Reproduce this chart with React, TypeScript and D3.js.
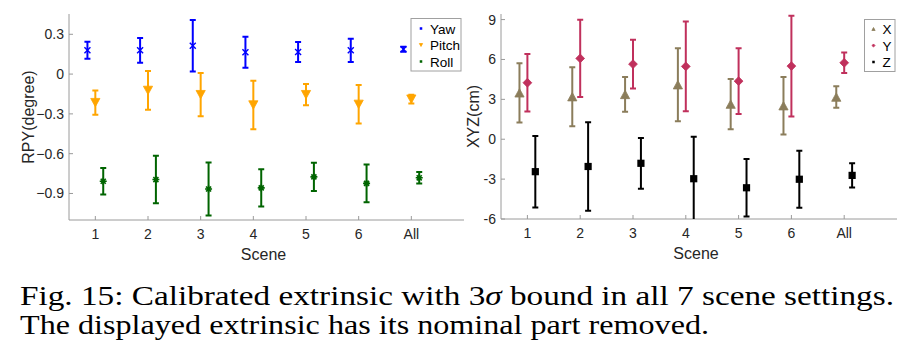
import React from "react";
import * as d3 from "d3";

// ---------- data ----------
const scenes = ["1", "2", "3", "4", "5", "6", "All"];

// RPY (degree): mean and 3-sigma half width
const yawMean = [0.18, 0.179, 0.214, 0.165, 0.166, 0.179, 0.187];
const yawBound = [0.064, 0.093, 0.194, 0.117, 0.075, 0.088, 0.019];
const pitchMean = [-0.215, -0.123, -0.155, -0.233, -0.155, -0.228, -0.189];
const pitchBound = [0.092, 0.146, 0.163, 0.183, 0.08, 0.145, 0.033];
const rollMean = [-0.808, -0.795, -0.866, -0.858, -0.775, -0.824, -0.782];
const rollBound = [0.1, 0.179, 0.2, 0.141, 0.106, 0.142, 0.043];

// XYZ (cm)
const xMean = [3.49, 3.2, 3.37, 4.1, 2.64, 2.52, 3.17];
const xBound = [2.23, 2.22, 1.31, 2.74, 1.89, 2.17, 0.81];
const yMean = [4.25, 6.08, 5.65, 5.48, 4.37, 5.5, 5.75];
const yBound = [2.16, 2.9, 1.83, 3.37, 2.48, 3.79, 0.77];
const zMean = [-2.44, -2.05, -1.81, -2.97, -3.65, -3.01, -2.72];
const zBound = [2.69, 3.33, 1.91, 3.15, 2.17, 2.15, 0.91];

const rpyTicks = [0.3, 0, -0.3, -0.6, -0.9];
const xyzTicks = [9, 6, 3, 0, -3, -6];

const rpyLabels = ["Yaw", "Pitch", "Roll"];
const xyzLabels = ["X", "Y", "Z"];

const C_YAW = "#0000FF";
const C_PITCH = "#FFA500";
const C_ROLL = "#006400";
const C_X = "#8B7D5B";
const C_Y = "#C0305C";
const C_Z = "#000000";

const AXIS = "#9a9a9a";
const TXT = "#262626";

type Series = { mean: number[]; bound: number[]; color: string; marker: string; offset: number };

function Marker({ type, x, y, color, small }: { type: string; x: number; y: number; color: string; small?: boolean }) {
  const k = small ? 0.35 : 1;
  if (type === "x") {
    const r = 3 * k;
    return (
      <path d={`M${x - r},${y - r}L${x + r},${y + r}M${x - r},${y + r}L${x + r},${y - r}`} stroke={color} strokeWidth={1.4} fill="none" />
    );
  }
  if (type === "star") {
    const r = 3.5 * k;
    const a = r * 0.72;
    return (
      <path
        d={`M${x - r},${y}L${x + r},${y}M${x},${y - r}L${x},${y + r}M${x - a},${y - a}L${x + a},${y + a}M${x - a},${y + a}L${x + a},${y - a}`}
        stroke={color}
        strokeWidth={1.6}
        fill="none"
      />
    );
  }
  if (type === "tdown") {
    const w = 4.6 * k, h = 4.2 * k;
    return <path d={`M${x - w},${y - h}L${x + w},${y - h}L${x},${y + h}Z`} fill={color} stroke={color} strokeWidth={0.8} />;
  }
  if (type === "tup") {
    const w = 4.6 * k, h = 4.2 * k;
    return <path d={`M${x - w},${y + h}L${x + w},${y + h}L${x},${y - h}Z`} fill={color} stroke={color} strokeWidth={0.8} />;
  }
  if (type === "diamond") {
    const r = 4.4 * k;
    return <path d={`M${x},${y - r}L${x + r},${y}L${x},${y + r}L${x - r},${y}Z`} fill={color} stroke={color} strokeWidth={0.8} />;
  }
  if (type === "square") {
    const r = 3.6 * k;
    return <rect x={x - r} y={y - r} width={2 * r} height={2 * r} fill={color} />;
  }
  return null;
}

function Panel({
  id, left, right, top, bottom, yDomain, ticks, tickFmt, series, ylabel, ylabelX, legend, legendLabels,
}: {
  id: string; left: number; right: number; top: number; bottom: number; yDomain: [number, number];
  ticks: number[]; tickFmt: (v: number) => string; series: Series[]; ylabel: string; ylabelX: number;
  legend: { x0: number; x1: number; y0: number; y1: number; mx: number; tx: number; ys: number[] };
  legendLabels: string[];
}) {
  const x = d3.scaleLinear().domain([0.5, 8]).range([left, right]);
  const y = d3.scaleLinear().domain(yDomain).range([bottom, top]);
  const cap = 3;
  return (
    <g>
      <defs>
        <clipPath id={id}>
          <rect x={left} y={top} width={right - left} height={bottom - top} />
        </clipPath>
      </defs>
      <line x1={left} x2={left} y1={top} y2={bottom} stroke={AXIS} strokeWidth={1} />
      <line x1={left} x2={right} y1={bottom} y2={bottom} stroke={AXIS} strokeWidth={1} />
      {ticks.map((t) => (
        <g key={"yt" + t}>
          <line x1={left} x2={left + 4} y1={y(t)} y2={y(t)} stroke={AXIS} />
          <text className="sans" x={left - 5} y={y(t) + 5} textAnchor="end" fontSize={14} fill={TXT}>
            {tickFmt(t)}
          </text>
        </g>
      ))}
      {scenes.map((s, i) => (
        <g key={"xt" + s}>
          <line x1={x(i + 1)} x2={x(i + 1)} y1={bottom} y2={bottom - 4} stroke={AXIS} />
          <text className="sans" x={x(i + 1)} y={bottom + 19} textAnchor="middle" fontSize={14} fill={TXT}>
            {s}
          </text>
        </g>
      ))}
      <text className="sans" x={(left + right) / 2 - 3} y={bottom + 40} textAnchor="middle" fontSize={16} fill={TXT}>
        Scene
      </text>
      <text
        className="sans"
        transform={`translate(${ylabelX},${(top + bottom) / 2}) rotate(-90)`}
        textAnchor="middle"
        fontSize={16}
        fill={TXT}
      >
        {ylabel}
      </text>
      <g clipPath={`url(#${id})`}>
        {series.map((se, si) =>
          se.mean.map((m, i) => {
            const cx = x(i + 1 + se.offset);
            const y0 = y(m - se.bound[i]);
            const y1 = y(m + se.bound[i]);
            return (
              <g key={`${si}-${i}`}>
                <path
                  d={`M${cx},${y0}L${cx},${y1}M${cx - cap},${y0}L${cx + cap},${y0}M${cx - cap},${y1}L${cx + cap},${y1}`}
                  stroke={se.color}
                  strokeWidth={2}
                  fill="none"
                />
                <Marker type={se.marker} x={cx} y={y(m)} color={se.color} />
              </g>
            );
          })
        )}
      </g>
      <rect x={legend.x0} y={legend.y0} width={legend.x1 - legend.x0} height={legend.y1 - legend.y0} fill="#fff" stroke="#a0a0a0" strokeWidth={1} />
      {series.map((se, si) => (
        <g key={"lg" + si}>
          <Marker type={se.marker === "x" || se.marker === "star" ? "square" : se.marker} x={legend.mx} y={legend.ys[si]} color={se.color} small />
          <text className="sans" x={legend.tx} y={legend.ys[si] + 5} fontSize={13.5} fill="#000">
            {legendLabels[si]}
          </text>
        </g>
      ))}
    </g>
  );
}

export default function App() {
  const rpySeries: Series[] = [
    { mean: yawMean, bound: yawBound, color: C_YAW, marker: "x", offset: -0.15 },
    { mean: pitchMean, bound: pitchBound, color: C_PITCH, marker: "tdown", offset: 0 },
    { mean: rollMean, bound: rollBound, color: C_ROLL, marker: "star", offset: 0.15 },
  ];
  const xyzSeries: Series[] = [
    { mean: xMean, bound: xBound, color: C_X, marker: "tup", offset: -0.15 },
    { mean: yMean, bound: yBound, color: C_Y, marker: "diamond", offset: 0 },
    { mean: zMean, bound: zBound, color: C_Z, marker: "square", offset: 0.15 },
  ];
  return (
    <svg width={901} height={355} style={{ position: "absolute", left: 0, top: 0, background: "#fff" }}>
      <style>{`
        .sans { font-family: "Liberation Sans"; }
        .serif { font-family: "Liberation Serif"; }
      `}</style>
      <rect x={0} y={0} width={901} height={355} fill="#fff" />
      <Panel
        id="clipL"
        left={69}
        right={464}
        top={14}
        bottom={220}
        yDomain={[-1.1, 0.453]}
        ticks={rpyTicks}
        tickFmt={(v) => (v === 0 ? "0" : d3.format(".1f")(v))}
        series={rpySeries}
        ylabel="RPY(degree)"
        ylabelX={34}
        legend={{ x0: 411, x1: 461, y0: 18.5, y1: 71, mx: 421, tx: 430, ys: [28.5, 45, 61.5] }}
        legendLabels={rpyLabels}
      />
      <Panel
        id="clipR"
        left={501}
        right={897}
        top={14}
        bottom={219}
        yDomain={[-6, 9.42]}
        ticks={xyzTicks}
        tickFmt={(v) => String(v)}
        series={xyzSeries}
        ylabel="XYZ(cm)"
        ylabelX={479}
        legend={{ x0: 864.5, x1: 895, y0: 19.5, y1: 71.5, mx: 873.5, tx: 882.5, ys: [29, 45.5, 62] }}
        legendLabels={xyzLabels}
      />
      <text className="serif" x={20} y={305} fontSize={28} fill="#000" textLength={874} lengthAdjust="spacingAndGlyphs">
        Fig. 15: Calibrated extrinsic with 3<tspan fontStyle="italic">σ</tspan> bound in all 7 scene settings.
      </text>
      <text className="serif" x={20} y={334} fontSize={28} fill="#000" textLength={689} lengthAdjust="spacingAndGlyphs">
        The displayed extrinsic has its nominal part removed.
      </text>
    </svg>
  );
}
